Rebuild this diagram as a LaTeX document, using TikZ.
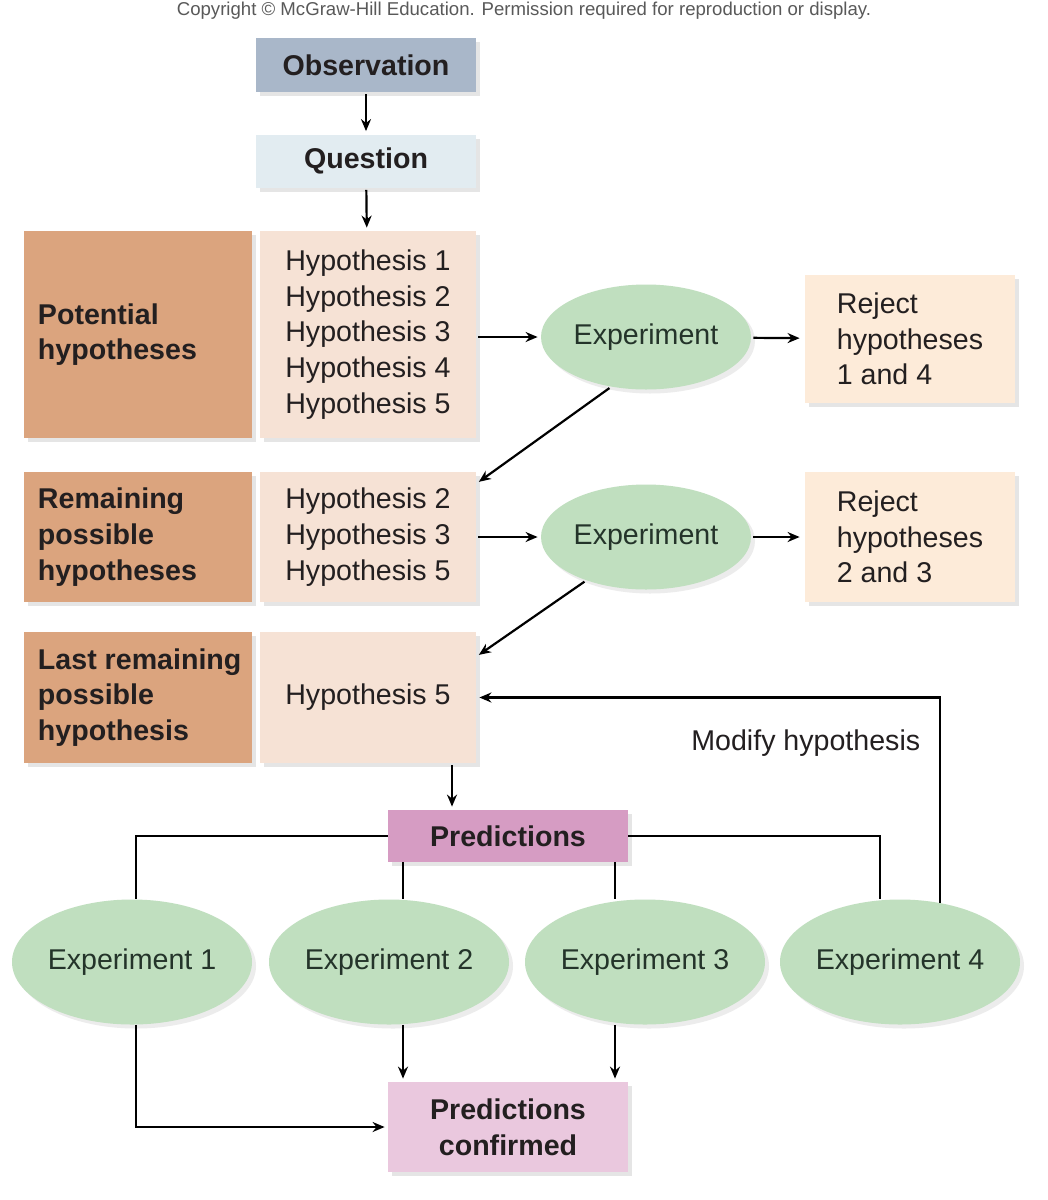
\documentclass[tikz,border=0pt]{standalone}
\usepackage{fontspec}
\setmainfont{Liberation Sans}
\usepackage{xcolor}
\usepackage{tikz}
\usetikzlibrary{arrows.meta}
\usetikzlibrary{shapes}
\usetikzlibrary{shadows}
\definecolor{obsblue}{HTML}{A9B7C9}
\definecolor{qblue}{HTML}{E2ECF1}
\definecolor{tandark}{HTML}{DBA47E}
\definecolor{tanlight}{HTML}{F6E2D5}
\definecolor{rejtan}{HTML}{FDEBD9}
\definecolor{expgreen}{HTML}{C0DFBF}
\definecolor{predpink}{HTML}{D69CC3}
\definecolor{confpink}{HTML}{EAC8DE}
\definecolor{inkgray}{HTML}{231F20}
\definecolor{expink}{HTML}{24342A}
\newcommand{\bodyfont}{\fontsize{14.3}{17.8}\selectfont}
\tikzset{
  box/.style={rectangle, inner sep=0pt, align=left, text=inkgray,
    drop shadow={shadow xshift=2pt, shadow yshift=-2pt, opacity=.2}},
  boldbox/.style={box, font=\bodyfont\bfseries},
  lbl/.style={align=left, inner sep=0pt, font=\bodyfont\bfseries, text=inkgray},
  expt/.style={ellipse, fill=expgreen, inner sep=0pt, text=expink,
    drop shadow={shadow xshift=2pt, shadow yshift=-2pt, opacity=.15}},
  arr/.style={-{Stealth[length=6pt, width=5pt]}, line width=1.1pt, shorten <=1pt, shorten >=1.5pt},
  link/.style={line width=1.1pt}
}

\begin{document}
\begin{tikzpicture}[x=0.5pt, y=-0.5pt, font=\bodyfont]
  \fill[white] (0,0) rectangle (1048,1200);
  \useasboundingbox (0,0) rectangle (1048,1200);
  \node[text=black!65, font=\fontsize{9.3}{11}\selectfont] (copy) at (524,11)
    {Copyright © McGraw-Hill Education. Permission required for reproduction or display.};
  % top of the chain
  \node[boldbox, fill=obsblue, minimum width=110pt, minimum height=27pt] (obs) at (366,65) {Observation};
  \node[boldbox, fill=qblue, minimum width=110pt, minimum height=26.5pt] (qst) at (366,161) {Question};
  % label boxes
  \node[box, fill=tandark, minimum width=114pt, minimum height=103.5pt] (potbox) at (138,334.5) {};
  \node[box, fill=tandark, minimum width=114pt, minimum height=65pt] (rembox) at (138,537) {};
  \node[box, fill=tandark, minimum width=114pt, minimum height=65.5pt] (lastbox) at (138,697.5) {};
  \node[lbl, anchor=west] (potlbl) at ([xshift=7pt]potbox.west) {Potential\\hypotheses};
  \node[lbl, anchor=west] (remlbl) at ([xshift=7pt]rembox.west) {Remaining\\possible\\hypotheses};
  \node[lbl, anchor=west] (lastlbl) at ([xshift=7pt]lastbox.west) {Last remaining\\possible\\hypothesis};
  % hypothesis lists
  \node[box, fill=tanlight, minimum width=108pt, minimum height=103.5pt] (hypA) at (368,334.5)
    {Hypothesis 1\\Hypothesis 2\\Hypothesis 3\\Hypothesis 4\\Hypothesis 5};
  \node[box, fill=tanlight, minimum width=108pt, minimum height=65pt] (hypB) at (368,537)
    {Hypothesis 2\\Hypothesis 3\\Hypothesis 5};
  \node[box, fill=tanlight, minimum width=108pt, minimum height=65.5pt] (hypC) at (368,697.5) {Hypothesis 5};
  % first two experiments
  \node[expt, minimum width=105pt, minimum height=52.5pt] (exA) at (646,337) {Experiment};
  \node[expt, minimum width=105pt, minimum height=52.5pt] (exB) at (646,537) {Experiment};
  \node[box, fill=rejtan, minimum width=105pt, minimum height=64pt] (rejA) at (910,339) {Reject\\hypotheses\\1 and 4};
  \node[box, fill=rejtan, minimum width=105pt, minimum height=65pt] (rejB) at (910,537) {Reject\\hypotheses\\2 and 3};
  % predictions
  \node[boldbox, fill=predpink, minimum width=120pt, minimum height=26pt] (pred) at (508,836) {Predictions};
  \foreach \i/\x in {1/132,2/389,3/645,4/900}
    \node[expt, minimum width=120pt, minimum height=62.5pt] (e\i) at (\x,962) {Experiment \i};
  \node[boldbox, fill=confpink, align=center, minimum width=120pt, minimum height=45pt] (conf) at (508,1127)
    {Predictions\\confirmed};

  \draw[arr] (obs) -- (qst);
  \draw[arr] (qst) -- (hypA);
  \draw[arr] (hypA.east |- exA) -- (exA);
  \draw[arr, shorten >=2.5pt] (exA) -- (rejA);
  \draw[arr] (exA.235) -- ([yshift=-6pt]hypB.north east);
  \draw[arr] (hypB.east |- exB) -- (exB);
  \draw[arr, shorten >=2.5pt] (exB) -- (rejB);
  \draw[arr] (exB.216) -- ([yshift=-12.5pt]hypC.north east);
  \draw[arr] ([xshift=42pt]hypC.south) -- ([xshift=42pt]hypC.south |- pred.north);
  \draw[arr, shorten <=0pt] (e4.56) |- node[pos=0.39, left=6pt, text=inkgray] (modlbl) {Modify hypothesis} (hypC.east);
  % branches to the experiments
  \draw[link] (pred.west) -| ([xshift=2pt]e1.north);
  \draw[link] (pred.east) -| ([xshift=-10pt]e4.north);
  \draw[link] ([xshift=-52.5pt]pred.south) -- ([xshift=-52.5pt]pred.south |- e2.north);
  \draw[link] ([xshift=53.5pt]pred.south) -- ([xshift=53.5pt]pred.south |- e3.north);
  \draw[arr, shorten <=0pt] ([xshift=2pt]e1.south) |- (conf.west);
  \draw[arr, shorten <=0pt] ([xshift=7pt]e2.south) -- ([xshift=7pt]e2.south |- conf.north);
  \draw[arr, shorten <=0pt] ([xshift=-15pt]e3.south) -- ([xshift=-15pt]e3.south |- conf.north);
\end{tikzpicture}
\end{document}
